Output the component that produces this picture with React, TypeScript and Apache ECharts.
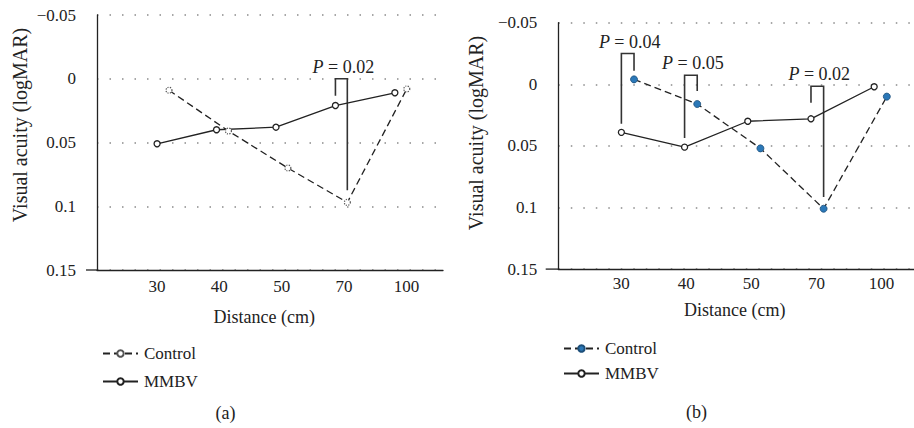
import React, { useEffect, useRef } from "react";
import * as echarts from "echarts";

// ---------- data ----------
const categories = ["30", "40", "50", "70", "100"];

// Panel (a)
const mmbvA = [0.051, 0.04, 0.038, 0.021, 0.011];
const controlA = [0.009, 0.041, 0.07, 0.097, 0.008];
const bracketIdxA = [3];
const bracketTopA = [0.0];
const bracketMmbvEndA = [0.0134];
const bracketControlEndA = [0.0874];
const pValuesA = ["0.02"];

// Panel (b)
const mmbvB = [0.039, 0.051, 0.03, 0.028, 0.002];
const controlB = [-0.004, 0.016, 0.052, 0.101, 0.01];
const bracketIdxB = [0, 1, 3];
const bracketTopB = [-0.025, -0.0073, 0.0016];
const bracketMmbvEndB = [0.032, 0.0435, 0.015];
const bracketControlEndB = [-0.011, 0.0054, 0.0914];
const pValuesB = ["0.04", "0.05", "0.02"];

const yMin = -0.05;
const yMax = 0.15;
const yStep = 0.05;

// ---------- style ----------
const FONT = '"Liberation Serif", "Times New Roman", serif';
const INK = "#222";
const DODGE = 0.1;

const fmtY = (v: number) => String(+v.toFixed(2)).replace("-", "\u2212");

function panel(
  gridBase: number,
  frame: { left: number; top: number; width: number; height: number },
  labelGrid: { left: number; width: number },
  dataGrid: { left: number; width: number },
  labelMargin: number
) {
  const grids = [
    { ...frame },
    { left: labelGrid.left, width: labelGrid.width, top: frame.top, height: frame.height },
    { left: dataGrid.left, width: dataGrid.width, top: frame.top, height: frame.height },
  ];
  const yBase = {
    type: "value",
    min: yMin,
    max: yMax,
    interval: yStep,
    inverse: true,
  };
  const xAxes = [
    {
      gridIndex: gridBase,
      type: "value",
      min: 0,
      max: 1,
      axisLine: { show: true, onZero: false, lineStyle: { color: INK, width: 1.3 } },
      axisTick: { show: false },
      axisLabel: { show: false },
      splitLine: { show: false },
    },
    {
      gridIndex: gridBase + 1,
      type: "category",
      data: categories,
      boundaryGap: true,
      axisLine: { show: false, onZero: false },
      axisTick: { show: false },
      axisLabel: { margin: labelMargin, fontFamily: FONT, fontSize: 17, color: INK },
      splitLine: { show: false },
    },
    {
      gridIndex: gridBase + 2,
      type: "value",
      min: -0.5,
      max: 4.5,
      show: false,
      axisLine: { onZero: false },
    },
  ];
  const yAxes = [
    {
      ...yBase,
      gridIndex: gridBase,
      axisLine: { show: true, lineStyle: { color: INK, width: 1.3 } },
      axisTick: { show: false },
      axisLabel: { margin: 21, fontFamily: FONT, fontSize: 17, color: INK, formatter: fmtY },
      splitLine: { show: true, lineStyle: { color: "#8a8a8a", width: 1.5, type: [1.5, 11] } },
    },
    { ...yBase, gridIndex: gridBase + 1, show: false },
    { ...yBase, gridIndex: gridBase + 2, show: false },
  ];
  return { grids, xAxes, yAxes };
}

function makeSeries(
  axisIdx: number,
  suffix: string,
  mmbv: number[],
  control: number[],
  controlItem: any,
  bIdx: number[],
  bTop: number[],
  bM: number[],
  bC: number[],
  pv: string[]
) {
  return [
    {
      name: "Control " + suffix,
      type: "line",
      xAxisIndex: axisIdx,
      yAxisIndex: axisIdx,
      data: control.map((v, i) => [i + DODGE, v]),
      symbol: "circle",
      symbolSize: controlItem.size,
      lineStyle: { color: INK, width: 1.3, type: [7, 4] },
      itemStyle: controlItem.style,
      z: 3,
    },
    {
      name: "MMBV " + suffix,
      type: "line",
      xAxisIndex: axisIdx,
      yAxisIndex: axisIdx,
      data: mmbv.map((v, i) => [i - DODGE, v]),
      symbol: "circle",
      symbolSize: 6,
      lineStyle: { color: INK, width: 1.3, type: "solid" },
      itemStyle: { color: "#fff", borderColor: INK, borderWidth: 1.3 },
      z: 3,
    },
    {
      type: "custom",
      xAxisIndex: axisIdx,
      yAxisIndex: axisIdx,
      encode: { x: 0, y: 1 },
      clip: false,
      silent: true,
      data: bIdx.map((ix, k) => [ix, bTop[k], bM[k], bC[k]]),
      renderItem: (params: any, api: any) => {
        const i = api.value(0);
        const top = api.value(1);
        const p1 = api.coord([i - DODGE, api.value(2)]);
        const p2 = api.coord([i - DODGE, top]);
        const p3 = api.coord([i + DODGE, top]);
        const p4 = api.coord([i + DODGE, api.value(3)]);
        return {
          type: "group",
          children: [
            {
              type: "polyline",
              shape: { points: [p1, p2, p3, p4] },
              style: { stroke: "#333", lineWidth: 1.6, fill: null },
            },
            {
              type: "text",
              x: (p2[0] + p3[0]) / 2 + 2,
              y: p2[1] - 12,
              style: {
                text: "{i|P} = " + pv[params.dataIndex],
                rich: {
                  i: { fontStyle: "italic", fontFamily: FONT, fontSize: 18, fill: INK },
                },
                fontFamily: FONT,
                fontSize: 18,
                fill: INK,
                align: "center",
                verticalAlign: "middle",
              },
            },
          ],
        };
      },
      z: 2,
    },
  ];
}

export default function App() {
  const ref = useRef<HTMLDivElement>(null);
  useEffect(() => {
    if (!ref.current) return;
    const chart = echarts.init(ref.current, null, { renderer: "svg" });

    const A = panel(
      0,
      { left: 97, top: 15, width: 346, height: 255 },
      { left: 125.8, width: 311.75 },
      { left: 133.3, width: 297.25 },
      8
    );
    const B = panel(
      3,
      { left: 558.3, top: 22.7, width: 355.7, height: 246.4 },
      { left: 588.6, width: 330.75 },
      { left: 596.1, width: 316 },
      6
    );

    const seriesA = makeSeries(
      2,
      "(a)",
      mmbvA,
      controlA,
      { size: 6, style: { color: "#fff", borderColor: "#555", borderWidth: 1.2, borderType: "dotted" } },
      bracketIdxA,
      bracketTopA,
      bracketMmbvEndA,
      bracketControlEndA,
      pValuesA
    );
    const seriesB = makeSeries(
      5,
      "(b)",
      mmbvB,
      controlB,
      { size: 7, style: { color: "#2b78b8", borderColor: "#1d4f7a", borderWidth: 0.8 } },
      bracketIdxB,
      bracketTopB,
      bracketMmbvEndB,
      bracketControlEndB,
      pValuesB
    );

    const legendBase = {
      orient: "vertical",
      itemWidth: 35,
      itemHeight: 8,
      selectedMode: false,
      formatter: (name: string) => name.split(" (")[0],
      textStyle: { fontFamily: FONT, fontSize: 17, color: INK, padding: [0, 0, 0, 1] },
    };

    const txt = (text: string, x: number, y: number, size: number, rot = 0) => ({
      type: "text",
      x,
      y,
      rotation: rot,
      style: {
        text,
        fontFamily: FONT,
        fontSize: size,
        fill: INK,
        align: "center",
        verticalAlign: "middle",
      },
    });

    chart.setOption({
      animation: false,
      backgroundColor: "#fff",
      grid: [...A.grids, ...B.grids],
      xAxis: [...A.xAxes, ...B.xAxes],
      yAxis: [...A.yAxes, ...B.yAxes],
      series: [...seriesA, ...seriesB],
      legend: [
        { ...legendBase, data: ["Control (a)", "MMBV (a)"], left: 97, top: 340, itemGap: 11 },
        { ...legendBase, data: ["Control (b)", "MMBV (b)"], left: 558, top: 335, itemGap: 8 },
      ],
      graphic: [
        { type: "line", shape: { x1: 86, y1: 270, x2: 97, y2: 270 }, style: { stroke: INK, lineWidth: 1.3 } },
        { type: "line", shape: { x1: 545.7, y1: 269.1, x2: 558.3, y2: 269.1 }, style: { stroke: INK, lineWidth: 1.3 } },
        txt("Visual acuity (logMAR)", 20, 125, 20, Math.PI / 2),
        txt("Visual acuity (logMAR)", 476, 133, 20, Math.PI / 2),
        txt("Distance (cm)", 264.3, 317, 18),
        txt("Distance (cm)", 734.8, 310, 18),
        txt("(a)", 225.5, 413, 18),
        txt("(b)", 696.5, 412, 18),
      ],
    });
    return () => chart.dispose();
  }, []);

  return (
    <div
      ref={ref}
      style={{ position: "fixed", left: 0, top: 0, width: 914, height: 428, background: "#fff" }}
    />
  );
}
